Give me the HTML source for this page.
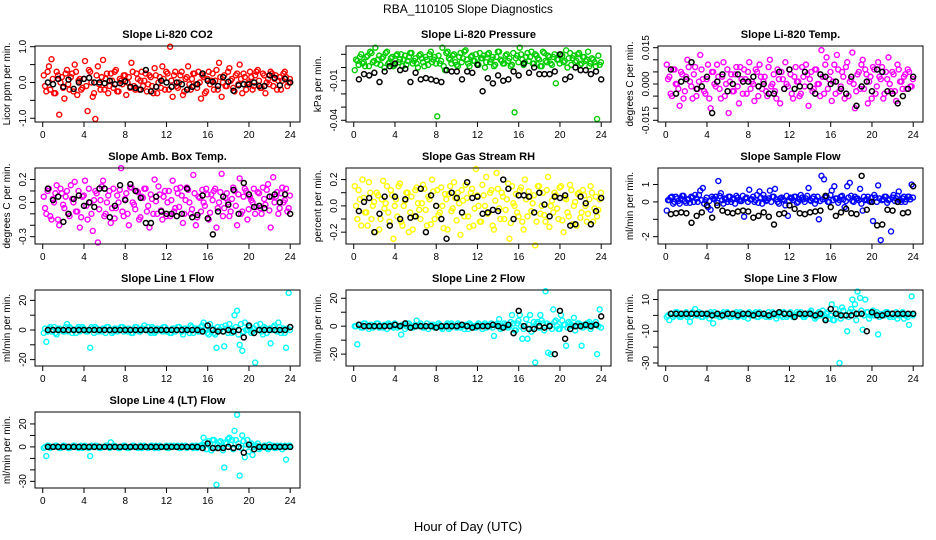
<!DOCTYPE html>
<html><head><meta charset="utf-8">
<style>
html,body{margin:0;padding:0;background:#fff;}
svg{display:block;font-family:"Liberation Sans",Arial,sans-serif;}
</style></head>
<body>
<svg id="chart" width="936" height="540" viewBox="0 0 936 540">
<text x="468" y="13" text-anchor="middle" font-size="12">RBA_110105  Slope Diagnostics</text>
<text x="468" y="531" text-anchor="middle" font-size="13">Hour of Day (UTC)</text>
</svg>
<script>
const xTicks = [0,4,8,12,16,20,24];
const co2Color = [0.2,-0.25,0.45,0.65,-0.3,0.3,-0.9,0.15,-0.45,0.35,-0.2,0.25,0.5,-0.35,0.1,-0.15,0.6,-0.8,0.3,-0.4,-1.02,0.45,-0.2,0.63,0.1,-0.3,0.25,-0.15,0.35,-0.25,0.05,0.2,-0.35,0.15,0.55,-0.1,0.25,-0.2,0.3,0.05,-0.25,0.2,-0.1,0.4,-0.3,0.15,0.45,-0.2,0.25,1.0,-0.4,0.3,-0.15,0.2,-0.35,0.1,0.45,-0.2,0.25,-0.05,0.3,-0.45,0.15,-0.25,0.3,0.05,-0.2,0.35,0.55,-0.4,0.2,-0.1,0.4,0.1,-0.25,0.25,0.5,-0.3,0.15,-0.05,0.3,-0.2,0.2,0.35,-0.15,0.25,-0.3,0.1,0.3,-0.1,0.2,0.05,-0.2,0.25,0.15,0.0];
const co2Color2 = [-0.1,0.3,-0.2,0.1,-0.3,0.2,0.0,-0.15,0.25,-0.05,0.15,-0.25,0.3,0.05,-0.2,0.1,-0.1,0.35,0.0,-0.3,0.2,-0.05,0.15,-0.2,0.25,-0.1,0.05,0.3,-0.25,0.1,-0.05,0.2,0.0,-0.15,0.3,-0.2,0.1,0.05,-0.1,0.25,-0.05,0.15,-0.3,0.2,0.0,-0.15,0.1,0.3,-0.2,0.05,0.2,-0.1,0.0,0.3,-0.25,0.15,-0.05,0.1,0.25,-0.15,0.0,0.2,-0.3,0.1,-0.05,0.25,0.05,-0.2,0.15,0.0,-0.1,0.3,0.05,-0.15,0.2,-0.05,0.1,0.25,-0.2,0.0,0.15,-0.1,0.3,0.05,-0.15,0.2,0.0,-0.05,0.25,0.1,-0.2,0.15,0.05,0.3,-0.1,0.1];
const co2Black = [0.0,-0.05,0.1,-0.12,0.08,-0.18,0.0,0.1,0.13,0.0,0.0,-0.02,0.05,-0.05,-0.02,0.03,-0.12,-0.15,-0.2,0.35,-0.25,-0.12,0.05,0.0,-0.12,0.0,-0.05,-0.2,-0.12,-0.05,0.25,0.05,0.02,-0.1,0.15,0.02,-0.23,-0.08,-0.05,-0.05,0.0,-0.1,-0.1,0.2,0.13,-0.08,0.1,0.0];
const presColor = [-0.002,0.005,0.008,0.003,0.001,0.009,0.012,0.004,0.015,0.006,0.002,0.008,0.011,0.003,0.007,0.001,0.009,0.004,0.010,0.006,0.002,0.008,0.011,0.005,0.003,0.009,0.007,0.001,0.006,0.010,0.004,0.008,-0.037,0.003,0.015,-0.002,0.012,0.006,0.009,0.004,0.001,0.011,0.007,0.013,0.003,0.008,0.005,0.010,0.002,0.007,0.009,0.004,0.011,0.006,0.001,0.008,0.012,0.005,0.003,0.010,0.007,0.002,-0.034,0.009,0.015,0.006,0.004,0.011,0.008,0.003,0.010,0.007,0.001,0.012,0.005,0.009,0.003,0.008,-0.012,0.006,0.010,0.004,0.013,0.007,0.002,0.009,0.005,0.011,0.003,0.008,0.006,0.001,0.007,0.004,-0.039,0.002];
const presColor2 = [0.006,0.002,0.010,0.004,0.008,0.001,0.011,0.005,0.003,0.009,0.007,0.000,0.012,0.004,0.008,0.002,0.010,0.006,0.001,0.009,0.005,0.011,0.003,0.007,0.000,0.010,0.004,0.008,0.002,0.012,0.006,0.003,0.009,0.005,0.001,0.011,0.007,0.003,0.010,0.002,0.008,0.004,0.012,0.006,0.001,0.009,0.005,0.003,0.011,0.007,0.000,0.010,0.004,0.008,0.002,0.012,0.006,0.003,0.009,0.005,0.001,0.011,0.007,0.004,0.010,0.002,0.008,0.005,0.012,0.003,0.009,0.006,0.001,0.011,0.004,0.008,0.002,0.010,0.006,0.003,0.009,0.005,0.000,0.011,0.007,0.004,0.010,0.002,0.008,0.005,0.012,0.003,0.006,0.001,0.009,0.004];
const presBlack = [-0.009,-0.005,-0.006,-0.004,-0.011,-0.003,0.001,0.003,-0.002,-0.001,-0.011,-0.004,-0.009,-0.008,-0.009,-0.010,-0.011,-0.002,-0.003,-0.003,-0.009,-0.003,-0.004,0.002,-0.018,-0.008,-0.012,-0.006,-0.010,-0.009,-0.003,-0.006,0.003,-0.004,0.000,-0.005,-0.005,-0.005,-0.003,0.010,-0.009,-0.007,0.000,-0.002,-0.002,-0.005,-0.003,-0.009];
const tempColor = [0.008,0.003,-0.005,0.006,0.000,-0.009,0.004,-0.003,0.010,0.001,-0.006,0.007,-0.002,0.012,0.002,-0.004,0.008,-0.010,0.005,-0.001,0.003,-0.006,0.009,0.000,-0.012,0.004,-0.003,0.007,-0.008,0.002,0.006,-0.004,0.009,0.001,-0.007,0.005,0.008,-0.002,0.003,-0.005,0.010,0.000,-0.003,0.006,-0.008,0.002,0.009,-0.001,0.004,-0.006,0.007,0.001,-0.004,0.003,0.008,-0.009,0.005,-0.002,0.006,0.000,0.014,-0.004,0.011,0.002,-0.007,0.008,0.012,-0.003,0.005,-0.006,0.009,0.001,0.013,-0.010,0.004,-0.002,0.010,0.006,-0.008,0.003,0.007,-0.004,0.009,0.002,-0.006,0.005,0.011,-0.003,0.004,-0.007,0.006,0.001,0.003,-0.002,0.005,-0.001];
const tempColor2 = [0.002,-0.004,0.006,0.000,-0.002,0.005,-0.006,0.003,0.007,-0.001,0.004,-0.005,0.001,0.006,-0.003,0.002,-0.006,0.005,0.000,0.008,-0.002,0.003,-0.005,0.006,0.001,-0.003,0.004,-0.001,0.007,-0.004,0.002,0.005,-0.002,0.000,0.006,-0.005,0.003,0.001,-0.003,0.007,-0.001,0.004,-0.006,0.002,0.005,-0.002,0.000,0.006,-0.004,0.003,0.001,-0.005,0.007,-0.001,0.004,0.002,-0.003,0.006,0.000,-0.005,0.003,0.008,-0.002,0.005,0.001,-0.004,0.006,-0.001,0.003,0.007,-0.005,0.002,0.000,-0.003,0.005,0.008,-0.002,0.004,0.001,-0.006,0.006,-0.001,0.003,0.007,-0.004,0.002,0.000,0.005,-0.003,0.008,0.001,-0.002,0.004,0.006,-0.001,0.002];
const tempBlack = [0.006,-0.004,0.001,0.002,0.009,-0.002,-0.001,0.003,-0.012,0.001,0.004,-0.003,0.000,0.004,0.001,0.001,0.003,-0.001,0.000,-0.004,-0.004,0.005,-0.002,0.006,-0.002,-0.001,0.005,-0.001,-0.004,0.004,0.003,0.000,0.001,-0.002,-0.004,0.003,-0.009,-0.001,0.001,-0.003,0.006,0.005,-0.003,-0.004,-0.008,-0.005,-0.002,0.003];
const ambColor = [0.05,-0.1,0.12,-0.15,0.0,0.15,-0.2,0.08,-0.05,0.1,-0.12,0.03,0.18,-0.08,-0.22,0.05,0.19,-0.15,0.0,-0.25,0.1,-0.35,0.02,0.19,-0.1,0.06,-0.18,0.12,-0.05,0.0,0.3,-0.12,0.08,-0.2,0.13,-0.02,0.1,-0.15,0.05,0.12,-0.08,-0.22,0.03,0.2,-0.1,0.07,-0.15,0.1,0.0,-0.12,0.19,-0.05,0.08,0.13,-0.18,0.02,0.11,-0.1,0.24,-0.2,0.05,-0.08,0.0,0.12,-0.15,0.07,0.1,-0.22,0.0,0.25,-0.05,0.08,-0.12,0.03,0.1,-0.2,0.21,-0.08,0.12,-0.15,0.05,0.0,-0.1,0.09,-0.05,0.13,-0.02,0.16,-0.22,0.22,0.05,-0.1,0.08,0.0,0.12,-0.05];
const ambColor2 = [-0.05,0.1,-0.12,0.03,0.08,-0.15,0.12,-0.02,0.05,-0.1,0.15,0.0,-0.08,0.1,-0.13,0.06,-0.03,0.12,-0.1,0.02,0.08,-0.06,0.14,-0.12,0.0,0.1,-0.05,-0.14,0.06,0.11,-0.08,0.03,-0.1,0.13,0.0,-0.06,0.09,-0.13,0.04,0.12,-0.03,0.07,-0.1,0.01,0.14,-0.07,0.05,-0.12,0.1,0.02,-0.08,0.12,-0.04,0.06,-0.1,0.13,0.0,-0.06,0.08,-0.13,0.04,0.11,-0.03,0.07,-0.09,0.02,0.12,-0.05,0.09,-0.12,0.04,0.0,-0.08,0.13,-0.03,0.07,-0.1,0.05,0.1,-0.06,0.02,0.12,-0.04,0.08,-0.1,0.03,0.11,-0.07,0.05,0.0,0.09,-0.05,0.13,0.02,-0.08,0.06];
const ambBlack = [0.12,0.02,0.05,-0.17,-0.1,0.03,0.06,-0.03,0.0,-0.04,0.12,0.12,-0.13,-0.03,0.15,0.02,0.16,0.1,0.04,-0.18,-0.18,0.05,-0.08,-0.1,-0.1,-0.12,-0.1,0.12,-0.13,-0.11,0.06,-0.14,-0.28,-0.08,0.05,-0.02,0.11,-0.1,0.17,0.07,-0.04,-0.03,-0.05,0.05,0.07,0.0,0.07,-0.1];
const rhColor = [0.15,-0.1,0.05,0.2,-0.05,-0.15,0.1,0.0,-0.2,0.08,-0.1,0.19,0.02,-0.05,0.12,-0.25,0.05,0.15,-0.12,0.0,0.1,-0.2,0.07,-0.08,0.14,-0.03,0.02,0.13,-0.15,0.05,0.2,-0.1,0.12,-0.05,0.0,0.09,-0.18,0.15,-0.02,0.06,0.1,-0.22,0.04,0.16,-0.08,0.1,-0.15,0.28,0.0,-0.12,0.08,0.22,-0.05,0.12,-0.18,0.25,-0.02,0.1,-0.1,0.05,-0.25,0.15,0.0,-0.05,0.12,-0.12,0.2,-0.08,0.07,0.02,-0.3,0.15,-0.06,0.1,-0.12,0.22,0.0,-0.05,0.08,-0.1,0.15,-0.2,0.05,-0.08,0.12,0.0,-0.15,0.1,-0.05,0.08,-0.12,0.05,0.1,-0.02,-0.08,0.05];
const rhColor2 = [0.0,0.12,-0.15,0.06,-0.05,0.18,-0.1,0.03,0.1,-0.18,0.05,-0.02,0.15,-0.12,0.08,0.0,-0.08,0.17,-0.15,0.04,0.1,-0.05,-0.18,0.12,0.02,-0.1,0.16,-0.03,0.07,-0.14,0.11,0.0,-0.07,0.14,-0.17,0.05,0.09,-0.04,0.18,-0.11,0.02,0.12,-0.08,0.06,-0.16,0.13,-0.02,0.08,-0.12,0.16,0.0,-0.06,0.1,-0.15,0.04,0.13,-0.1,0.07,-0.03,0.17,-0.13,0.02,0.09,-0.08,0.14,-0.18,0.05,0.11,-0.04,0.08,-0.12,0.15,0.0,-0.07,0.12,-0.16,0.04,0.1,-0.02,0.14,-0.11,0.06,-0.05,0.16,-0.14,0.03,0.09,-0.09,0.12,0.0,-0.06,0.15,-0.12,0.07,-0.03,0.1];
const rhBlack = [-0.04,0.03,0.06,-0.2,-0.06,0.07,-0.15,0.07,-0.1,0.05,-0.09,-0.08,0.13,-0.2,0.08,0.0,-0.1,-0.25,0.1,0.06,-0.05,0.18,0.06,0.07,-0.06,-0.05,-0.03,-0.04,0.2,0.13,-0.1,0.08,0.08,0.07,-0.05,0.1,0.01,-0.08,0.07,0.06,0.08,-0.15,-0.14,0.07,0.02,-0.14,-0.04,0.06];
const sampColor = [-0.5,0.1,0.3,0.0,0.2,-0.1,0.35,0.05,0.15,-0.05,0.25,0.4,0.0,0.65,0.8,0.1,-0.3,-0.45,0.2,0.3,1.2,0.5,-0.1,0.15,0.3,0.0,0.2,0.35,0.1,0.05,-0.85,0.25,0.7,0.15,0.0,0.4,0.6,-0.1,0.2,0.1,0.65,0.3,0.75,0.0,0.2,0.15,-0.2,-0.8,0.25,0.1,0.3,0.0,0.4,0.15,0.2,0.8,0.05,0.3,0.1,-1.0,1.5,1.3,0.3,0.0,0.65,0.9,0.2,0.1,0.35,-0.3,0.9,1.1,0.05,0.3,0.2,0.75,-0.5,0.1,0.3,0.0,-1.1,0.25,0.95,-2.2,0.15,0.3,0.1,-1.7,0.4,0.2,0.6,0.0,0.3,0.15,0.3,1.0];
const sampColor2 = [0.1,0.25,-0.1,0.3,0.05,0.2,0.35,-0.05,0.15,0.3,0.0,0.2,0.4,0.1,-0.1,0.25,0.05,0.3,0.15,-0.05,0.35,0.1,0.2,0.0,0.3,0.15,-0.1,0.25,0.05,0.35,0.2,0.0,0.15,0.3,0.1,-0.05,0.25,0.4,0.05,0.2,0.0,0.3,0.15,-0.1,0.25,0.1,0.35,0.05,0.2,0.3,-0.05,0.15,0.25,0.0,0.35,0.1,0.2,-0.1,0.3,0.05,0.15,0.25,0.0,0.4,0.1,0.2,-0.05,0.3,0.15,0.05,0.25,0.35,0.0,0.2,0.1,-0.1,0.3,0.15,0.05,0.25,0.4,0.0,0.2,0.1,0.3,-0.05,0.15,0.25,0.05,0.35,0.1,0.2,0.0,0.3,0.15,0.25];
const sampBlack = [-0.7,-0.65,-0.6,-0.65,-1.2,-0.8,-0.6,-0.2,-0.9,-0.2,-0.5,-0.6,-0.65,-0.55,-0.5,-0.55,-0.9,-0.8,-0.6,-0.85,-1.3,-0.7,-0.65,-0.2,-0.4,-0.65,-0.7,-0.6,-0.55,-0.5,0.35,-0.3,-0.8,-0.6,-0.4,-0.65,-0.7,1.5,-0.45,0.0,-1.35,-1.3,-0.45,-0.5,0.0,-0.65,-0.6,0.9];
const line1Color = [-2,-8,1,-1,2,-3,1,0,-1,4,2,-2,0,1,-1,2,0,-1,-12,1,2,-1,0,1,-2,2,0,-1,1,0,2,-1,0,1,-2,0,2,-1,1,3,0,-1,2,-2,1,0,-1,2,0,-2,1,-1,2,0,-3,1,0,3,-2,1,-1,2,5,0,-3,1,-2,-12,0,2,-11,1,4,-2,10,13,-10,-14,5,0,2,-1,-22,0,4,-3,1,0,-9,2,0,5,-2,1,-12,25];
const line1Color2 = [1,-1,2,0,-2,1,0,-1,2,-1,1,0,-2,2,0,1,-1,0,2,-2,1,0,-1,1,2,0,-2,1,-1,0,2,1,-1,0,-2,2,0,-1,1,0,2,-2,1,-1,0,1,2,-1,0,-2,1,0,2,-1,1,0,-2,2,0,1,-1,3,0,-2,4,1,-3,2,0,-1,3,-2,1,0,2,-3,4,-1,0,2,-2,1,3,0,-1,2,-2,1,0,3,-1,2,0,-2,1,0];
const line1Black = [0,0,0,0,0,0,0,0,0,0,0,0,0,0,0,0,0,0,0,0,0,0,0,0,0,0,0,0,0,0,-1,3,0,-1,-1,0,-1,0,-5,3,-2,0,0,0,0,0,0,2];
const line2Color = [0,-13,1,-1,2,0,1,-1,0,2,0,-1,1,2,0,-1,1,0,-6,1,0,2,-1,0,4,1,0,-1,2,0,1,-1,0,1,-2,0,2,-1,1,0,2,-1,0,1,-2,1,0,-1,2,0,1,-1,0,2,-7,1,5,-1,2,0,0,8,-3,2,8,-9,0,-9,8,-1,-26,3,8,2,25,-19,-20,12,4,-2,8,1,-14,3,1,6,0,2,-14,1,2,3,0,1,-20,12];
const line2Color2 = [0,1,-1,2,0,-2,1,0,2,-1,0,1,-2,1,0,2,-1,0,1,-2,2,0,-1,1,0,2,-1,0,-2,1,1,0,2,-1,0,1,-2,2,0,-1,1,0,-2,1,2,0,-1,1,0,-2,2,1,0,-1,1,2,-2,0,1,-1,3,2,-3,4,0,-2,5,1,-4,3,2,-1,4,-3,2,1,-2,3,0,-2,4,1,-1,2,0,-3,2,1,-1,0,2,-2,1,3,0,-1];
const line2Black = [1,0,0,0,0,0,0,1,0,2,-1,0,0,0,0,-1,0,0,0,0,1,0,-1,0,0,0,1,0,-1,1,-5,11,0,-2,-2,0,-1,0,-20,11,-9,-2,0,0,1,0,1,7];
const line3Color = [-1,-3,1,0,2,-1,0,1,-1,-4,2,4,0,1,-1,0,1,2,-5,0,1,-1,2,0,1,-1,0,2,1,0,-1,1,2,0,1,-1,2,0,1,0,-1,2,1,0,2,-1,1,0,2,-1,0,1,2,-1,0,1,3,0,-1,2,1,0,1,-2,7,-3,1,-30,5,0,-10,2,10,7,15,11,-9,10,2,0,3,1,-12,0,1,2,0,1,-1,2,0,1,-2,0,-6,12];
const line3Color2 = [0,1,-1,2,0,-1,1,2,0,-1,1,0,2,-1,1,0,-2,1,2,0,-1,1,0,2,-1,0,1,-1,2,0,1,-2,0,1,2,-1,0,1,-1,2,0,1,-2,1,0,2,-1,1,0,-1,2,1,0,-1,1,2,0,-2,1,0,3,-2,2,0,-3,4,1,-2,3,0,-1,4,2,-3,1,3,0,2,-2,1,0,2,-1,1,0,2,-1,1,0,-2,1,2,0,-1,1,0];
const line3Black = [1,1,1,1,1,1,1,1,0,1,0,1,1,0,1,1,0,1,1,0,1,2,1,1,-1,1,1,1,0,1,-3,4,1,0,0,0,1,1,-10,2,0,0,1,1,1,1,1,1];
const line4Color = [-1,-8,1,0,0,1,-1,0,1,0,-1,0,1,0,0,-1,1,0,-8,0,1,0,-1,0,1,0,4,1,0,-1,0,1,0,-1,0,1,0,0,-1,1,0,0,1,-1,0,1,0,0,-1,1,0,0,1,-1,0,1,0,0,-1,1,0,1,8,-2,5,-3,6,-33,4,0,-18,3,8,6,14,28,-25,10,-9,6,2,-7,1,3,-1,0,1,-2,0,1,-1,0,1,0,-11,1];
const line4Color2 = [0,1,-1,0,1,0,-1,1,0,-1,0,1,0,-1,1,0,0,-1,1,0,1,-1,0,0,1,-1,0,1,0,-1,0,1,-1,0,1,0,-1,1,0,0,-1,1,0,1,-1,0,0,1,-1,0,1,0,-1,1,0,-1,0,1,0,-1,1,2,4,-2,3,6,-1,2,5,-3,4,7,2,-2,6,3,-1,5,2,-4,3,0,1,-2,0,1,-1,2,0,-1,1,0,-2,1,0,1];
const line4Black = [0,0,0,0,0,0,0,0,0,0,0,0,0,0,0,0,0,0,0,0,0,0,0,0,0,0,0,0,0,0,-1,3,-1,-1,-1,0,-1,0,-5,2,-2,0,0,0,0,0,0,0];

const NS = 'http://www.w3.org/2000/svg';
const svg = document.getElementById('chart');
function mk(tag, attrs, parent){
  const e = document.createElementNS(NS, tag);
  for (const k in attrs) e.setAttribute(k, attrs[k]);
  (parent||svg).appendChild(e);
  return e;
}
const W = 265, H = 76;
const colsX = [35, 346, 658];
const rowsY = [46, 168, 290, 412];
const X0 = -0.75, X1 = 24.95;

function panel(slug, title, ylab, col, row, ymin, ymax, yticks, ylabels, color, cData, c2Data, kData){
  const L = colsX[col], T = rowsY[row];
  const g = mk('g', {});
  
  
  const xs = v => L + (v - X0) / (X1 - X0) * W;
  const ys = v => T + H - (v - ymin) / (ymax - ymin) * H;
  const t = mk('text', {x: L + W/2, y: T - 8, 'text-anchor': 'middle', 'font-size': 11, 'font-weight': 'bold'}, g);
  t.textContent = title;
  
  
  const yl = mk('text', {x: 0, y: 0, 'text-anchor': 'middle', 'font-size': 10, transform: `translate(${L-25},${T+H/2}) rotate(-90)`}, g);
  yl.textContent = ylab;
  
  
  const xa = mk('g', {}, g);
  
  
  xTicks.forEach(v => {
    mk('line', {x1: xs(v), x2: xs(v), y1: T+H, y2: T+H+5, stroke: '#000', 'stroke-width': 1}, xa);
    const lb = mk('text', {x: xs(v), y: T+H+16, 'text-anchor': 'middle', 'font-size': 10}, xa);
    lb.textContent = v;
    
    
  });
  const ya = mk('g', {}, g);
  
  
  yticks.forEach(v => {
    mk('line', {x1: L-5, x2: L, y1: ys(v), y2: ys(v), stroke: '#000', 'stroke-width': 1}, ya);
  });
  ylabels.forEach(p => {
    const lb = mk('text', {x: 0, y: 0, 'text-anchor': 'middle', 'font-size': 10, transform: `translate(${L-9},${ys(p[0])}) rotate(-90)`}, ya);
    lb.textContent = p[1];
    
    
  });
  const cg = mk('g', {fill: 'none', stroke: color, 'stroke-width': 1.4}, g);
  
  
  cData.forEach((v, i) => {
    const c = mk('circle', {cx: xs(0.1 + i*0.25), cy: ys(v), r: 2.5}, cg);
    
    
  });
  c2Data.forEach((v, i) => {
    const c = mk('circle', {cx: xs(0.225 + i*0.25), cy: ys(v), r: 2.5}, cg);
    
    
  });
  const kg = mk('g', {fill: 'none', stroke: '#000', 'stroke-width': 1.5}, g);
  
  
  kData.forEach((v, i) => {
    const c = mk('circle', {cx: xs(0.5 + i*0.5), cy: ys(v), r: 2.5}, kg);
    
    
  });
  const box = mk('rect', {x: L, y: T, width: W, height: H, fill: 'none', stroke: '#000', 'stroke-width': 1}, g);
  
  
}

panel('co2', 'Slope Li-820 CO2', 'Licor ppm per min.', 0, 0, -1.105, 1.02, [-1,-0.5,0,0.5,1], [[-1,'-1.0'],[0,'0.0'],[1,'1.0']], '#ff0000', co2Color, co2Color2, co2Black);
panel('pressure', 'Slope Li-820 Pressure', 'kPa per min.', 1, 0, -0.0413, 0.0163, [0.01,0,-0.01,-0.02,-0.03,-0.04], [[-0.04,'-0.04'],[-0.01,'-0.01']], '#00cc00', presColor, presColor2, presBlack);
panel('temp', 'Slope Li-820 Temp.', 'degrees C per min.', 2, 0, -0.0157, 0.0157, [-0.015,-0.01,-0.005,0,0.005,0.01,0.015], [[-0.015,'-0.015'],[0,'0.000'],[0.015,'0.015']], '#ff00ff', tempColor, tempColor2, tempBlack);
panel('amb-box-temp', 'Slope Amb. Box Temp.', 'degrees C per min.', 0, 1, -0.364, 0.301, [-0.3,-0.2,-0.1,0,0.1,0.2], [[-0.3,'-0.3'],[0,'0.0'],[0.2,'0.2']], '#ff00ff', ambColor, ambColor2, ambBlack);
panel('gas-rh', 'Slope Gas Stream RH', 'percent per min.', 1, 1, -0.29, 0.288, [-0.2,-0.1,0,0.1,0.2], [[-0.2,'-0.2'],[0,'0.0'],[0.2,'0.2']], '#ffff00', rhColor, rhColor2, rhBlack);
panel('sample-flow', 'Slope Sample Flow', 'ml/min per min.', 2, 1, -2.42, 1.95, [-2,-1,0,1], [[-2,'-2'],[0,'0'],[1,'1']], '#0000ff', sampColor, sampColor2, sampBlack);
panel('line1-flow', 'Slope Line 1 Flow', 'ml/min per min.', 0, 2, -24.3, 27, [-20,-10,0,10,20], [[-20,'-20'],[0,'0'],[20,'20']], '#00ffff', line1Color, line1Color2, line1Black);
panel('line2-flow', 'Slope Line 2 Flow', 'ml/min per min.', 1, 2, -28.5, 25.9, [-20,-10,0,10,20], [[-20,'-20'],[0,'0'],[20,'20']], '#00ffff', line2Color, line2Color2, line2Black);
panel('line3-flow', 'Slope Line 3 Flow', 'ml/min per min.', 2, 2, -31.9, 16, [-30,-20,-10,0,10], [[-30,'-30'],[-10,'-10'],[10,'10']], '#00ffff', line3Color, line3Color2, line3Black);
panel('line4-flow', 'Slope Line 4 (LT) Flow', 'ml/min per min.', 0, 3, -35.8, 30.4, [-30,-20,-10,0,10,20], [[-30,'-30'],[0,'0'],[20,'20']], '#00ffff', line4Color, line4Color2, line4Black);
</script>
</body></html>
